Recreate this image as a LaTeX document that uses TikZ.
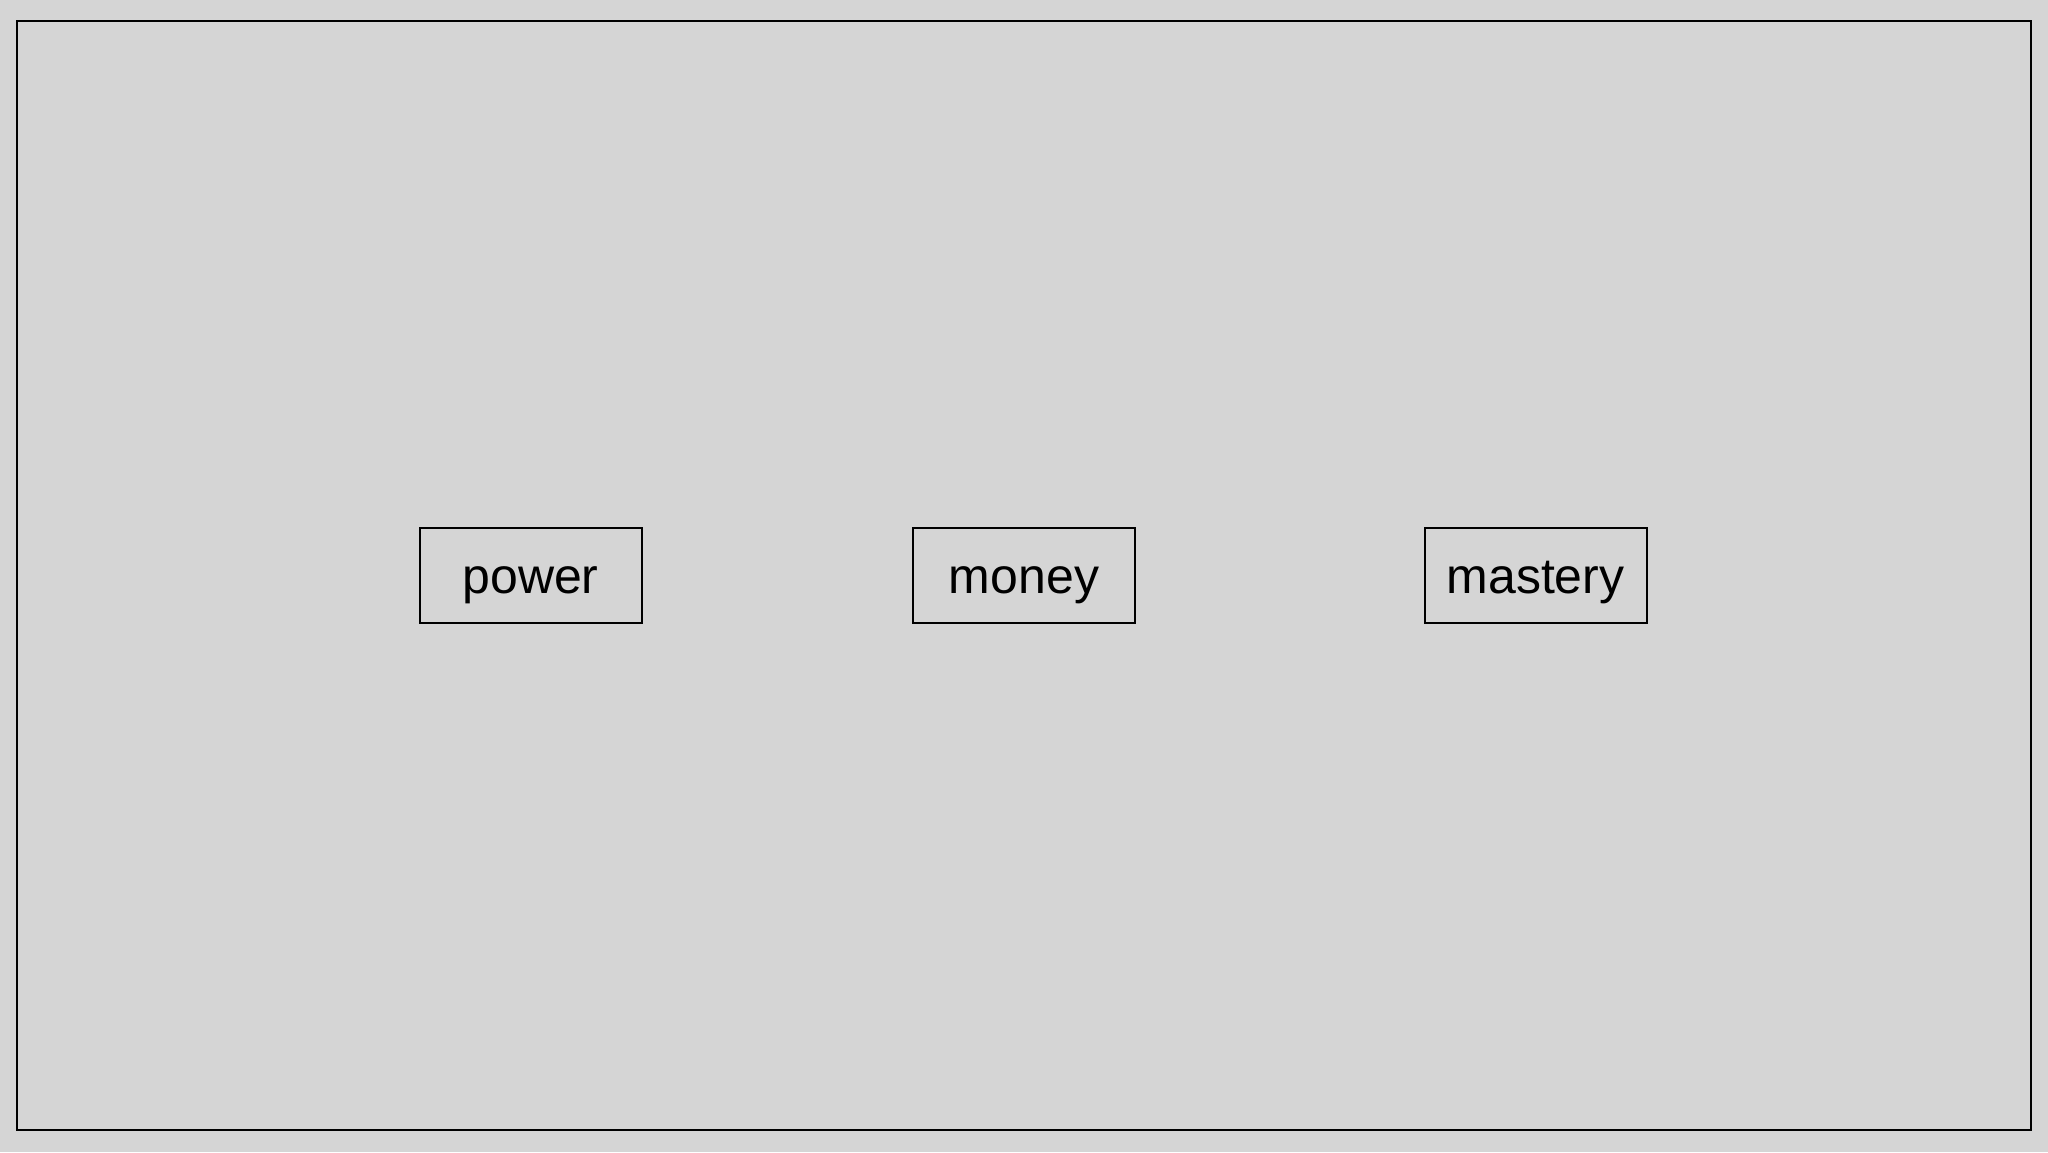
\documentclass[tikz,border=0pt]{standalone}
\usepackage{fontspec}
\setmainfont{Liberation Sans}
\definecolor{bg}{HTML}{D5D5D5}
\begin{document}
\begin{tikzpicture}[x=1pt,y=-1pt,
  word/.style={draw=black,line width=2pt,minimum width=222pt,minimum height=95pt,inner sep=0pt,text height=35pt,text depth=0pt,font=\fontsize{50}{60}\selectfont}]
\fill[bg] (0,0) rectangle (2048,1152);
\useasboundingbox (0,0) rectangle (2048,1152);
\draw[line width=2pt] (17,21) rectangle (2031,1130);
\node[word] (power) at (530.5,575.5) {power};
\node[word] (money) at (1024,575.5) {money};
\node[word] (mastery) at (1535.5,575.5) {mastery};
\end{tikzpicture}
\end{document}
